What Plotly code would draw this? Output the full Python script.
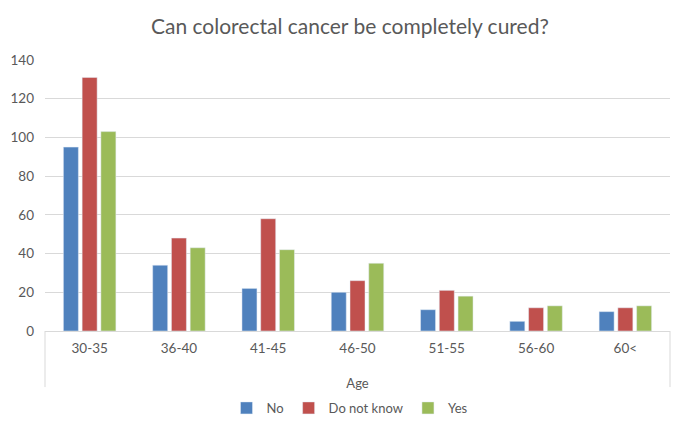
import plotly.graph_objects as go

# Age groups and answers
ages = ["30-35", "36-40", "41-45", "46-50", "51-55", "56-60", "60<"]
no = [95, 34, 22, 20, 11, 5, 10]
dont_know = [131, 48, 58, 26, 21, 12, 12]
yes = [103, 43, 42, 35, 18, 13, 13]

grey = "#595959"
fnt = "Lato, Open Sans, sans-serif"

fig = go.Figure()
fig.add_trace(go.Bar(x=ages, y=no, name="No", marker_color="#4F81BD"))
fig.add_trace(go.Bar(x=ages, y=dont_know, name="Do not know", marker_color="#C0504D"))
fig.add_trace(go.Bar(x=ages, y=yes, name="Yes", marker_color="#9BBB59"))

# page body has an 8px margin, so the figure is 8px smaller each way
fig.update_layout(
    width=677, height=424,
    margin=dict(l=37, r=15, t=52, b=101, autoexpand=False),
    paper_bgcolor="white", plot_bgcolor="white",
    font=dict(family=fnt, color=grey, size=13),
    title=dict(text="Can colorectal cancer be completely cured?", x=0.505, xanchor="center",
               y=0.957, yanchor="middle", font=dict(size=21, color=grey)),
    barmode="group", bargap=0.37, bargroupgap=0.2,
    legend=dict(orientation="h", x=0.488, xanchor="center", y=-0.284, yanchor="middle",
                itemwidth=30, font=dict(size=13, color=grey)),
    showlegend=True,
)
fig.update_yaxes(range=[0, 140], dtick=20, showgrid=True, gridcolor="#D9D9D9", gridwidth=1,
                 zeroline=False, showline=False, ticks="", tickfont=dict(size=13.5, color=grey),
                 ticklabelstandoff=10, automargin=False)
fig.update_xaxes(showline=True, linecolor="#D9D9D9", linewidth=1, ticks="",
                 tickfont=dict(size=13.5, color=grey), automargin=False, ticklabelstandoff=5,
                 title=dict(text="Age", font=dict(size=13, color=grey), standoff=23))

# multi-level category box sides
for xp in (0, 1):
    fig.add_shape(type="line", xref="paper", yref="paper", x0=xp, x1=xp, y0=0, y1=-0.207,
                  line=dict(color="#D9D9D9", width=1))

fig.write_html("out.html")
